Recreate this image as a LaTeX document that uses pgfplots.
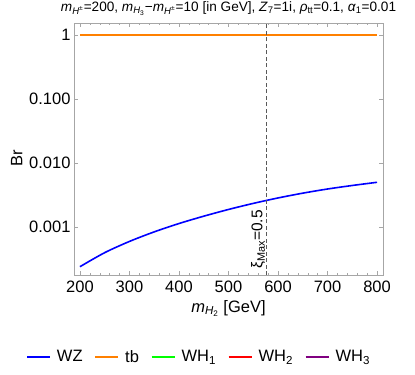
\documentclass[border=0pt]{standalone}
\usepackage{fontspec}
\setmainfont{Liberation Sans}
\usepackage{pgfplots}
\pgfplotsset{compat=1.18}
\definecolor{cWZ}{rgb}{0.0,0.0,1.0}
\definecolor{ctb}{rgb}{1.0,0.5,0.0}
\definecolor{cWHa}{rgb}{0.0,1.0,0.0}
\definecolor{cWHb}{rgb}{1.0,0.0,0.0}
\definecolor{cWHc}{rgb}{0.5,0.0,0.5}
\begin{document}
\begin{tikzpicture}
\useasboundingbox (0,0) rectangle (415bp,375bp);
\begin{axis}[
  at={(74bp,100bp)}, anchor=south west,
  scale only axis, width=309bp, height=252bp,
  xmin=188, xmax=812, ymode=log, ymin=1.78e-4, ymax=1.55,
  xtick={200,300,400,500,600,700,800},
  minor x tick num=4,
  ytick={1,0.1,0.01,0.001},
  yticklabels={1,0.100,0.010,0.001},
  /pgf/number format/assume math mode=true,
  ticklabel style={font=\fontsize{16.5bp}{19bp}\selectfont},
  xticklabel style={yshift=-2bp},
  axis line style={gray!70},
  every tick/.style={gray!70},
  major tick length=4bp, minor tick length=2.5bp,
  title={\textit{m}\textsubscript{\textit{H}\textsuperscript{±}}=200, \textit{m}\textsubscript{\textit{H}\textsubscript{3}}−\textit{m}\textsubscript{\textit{H}\textsuperscript{±}}=10 [in GeV], \textit{Z}\textsubscript{7}=1i, \textit{ρ}\textsubscript{tt}=0.1, \textit{α}\textsubscript{1}=0.01},
  title style={font=\fontsize{13.6bp}{16bp}\selectfont, yshift=-2bp},
  xlabel={\textit{m}\textsubscript{\textit{H}\textsubscript{2}} [GeV]},
  ylabel={Br},
  label style={font=\fontsize{16.5bp}{19bp}\selectfont},
  xlabel style={yshift=-1bp},
  ylabel style={at={(ticklabel cs:0.464)}},
  legend columns=5,
  legend style={draw=none, fill=none, at={(0.405,-0.325)}, anchor=center,
    font=\fontsize{16.5bp}{19bp}\selectfont,
    /tikz/every odd column/.append style={column sep=4bp},
    /tikz/every even column/.append style={column sep=10bp}},
  legend image code/.code={\draw[#1] (0bp,0bp) -- (23bp,0bp);},
]
\addplot[cWZ, line width=1.6bp, smooth] coordinates {
(200,2.40e-4) (250,3.98e-4) (300,5.96e-4) (350,8.41e-4)
(400,1.135e-3) (450,1.479e-3) (500,1.884e-3) (550,2.344e-3)
(600,2.851e-3) (650,3.388e-3) (700,3.936e-3) (750,4.467e-3) (800,5.01e-3)};
\addlegendentry{WZ}
\addplot[ctb, line width=1.6bp] coordinates {(200,1) (800,1)};
\addlegendentry{tb}
\addlegendimage{cWHa, line width=1.6bp}
\addlegendentry{WH\textsubscript{1}}
\addlegendimage{cWHb, line width=1.6bp}
\addlegendentry{WH\textsubscript{2}}
\addlegendimage{cWHc, line width=1.6bp}
\addlegendentry{WH\textsubscript{3}}
\draw[black!65, dash pattern=on 4bp off 2.5bp, line width=0.7bp] (axis cs:577,1.78e-4) -- (axis cs:577,1.55);
\node[rotate=90, anchor=south west, inner sep=1.5bp, font=\fontsize{15.5bp}{18bp}\selectfont]
  at (axis cs:577,2.1e-4) {ξ\textsubscript{Max}=0.5};
\end{axis}
\end{tikzpicture}
\end{document}
